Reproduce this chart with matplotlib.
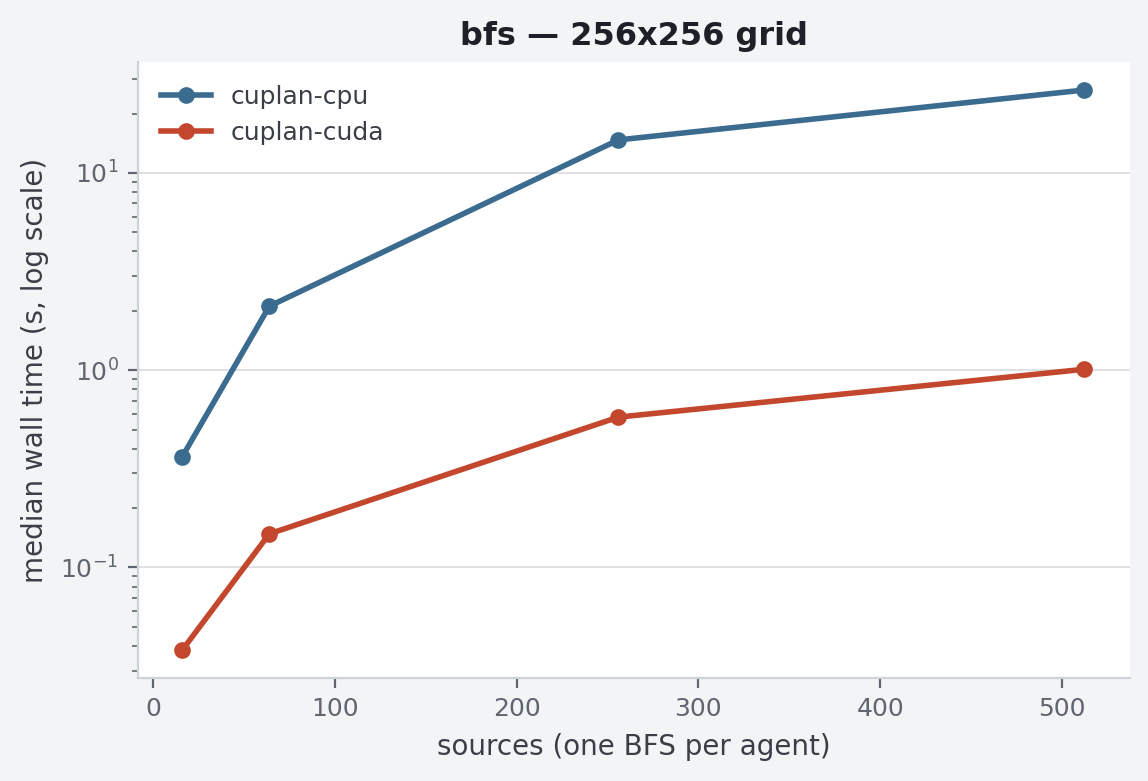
import matplotlib
matplotlib.use("Agg")
import matplotlib.pyplot as plt

sources = [16, 64, 256, 512]
cpu = [0.363, 2.11, 14.7, 26.3]
cuda = [0.038, 0.148, 0.578, 1.01]

fig = plt.figure(figsize=(5.74, 3.905), dpi=200, facecolor="#f3f4f6")
ax = fig.add_axes([138/1148, 1-678/781, (1130-138)/1148, (678-62)/781])
ax.set_facecolor("white")
ax.plot(sources, cpu, "-o", color="#3b6b8f", lw=2, ms=5, label="cuplan-cpu")
ax.plot(sources, cuda, "-o", color="#c2472d", lw=2, ms=5, label="cuplan-cuda")
ax.set_yscale("log")
ax.set_xlim(-8.25, 537.4)
ax.set_ylim(0.0275, 36.5)
ax.grid(True, which="major", axis="y", color="#dfe1e5", lw=0.7)
ax.set_axisbelow(True)
for s in ["top", "right"]:
    ax.spines[s].set_visible(False)
for s in ["left", "bottom"]:
    ax.spines[s].set_color("#cfd3d9")
ax.tick_params(colors="#5f6670", labelsize=9, which="both")
ax.tick_params(which="both", color="#5f6670")
ax.set_xlabel("sources (one BFS per agent)", fontsize=10, color="#3a3f47")
ax.set_ylabel("median wall time (s, log scale)", fontsize=10, color="#3a3f47")
ax.set_title("bfs — 256x256 grid", fontsize=11.5, fontweight="bold", color="#1d2026")
leg = ax.legend(loc="upper left", frameon=False, fontsize=9)
for t in leg.get_texts():
    t.set_color("#3a3f47")
fig.savefig("out.png", dpi=200, facecolor=fig.get_facecolor())
